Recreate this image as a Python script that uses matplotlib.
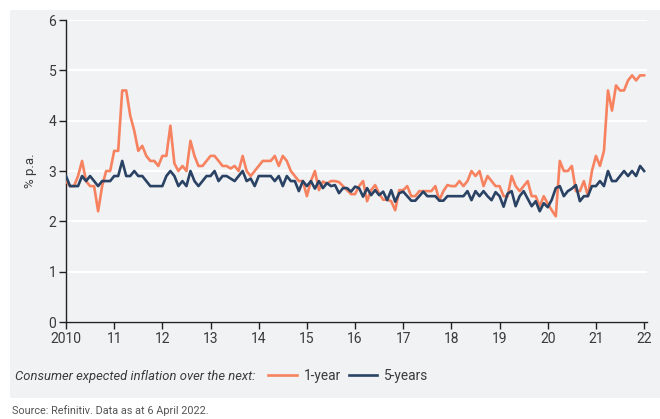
import numpy as np
import pandas as pd
import matplotlib
matplotlib.use('Agg')
import matplotlib.pyplot as plt
from matplotlib.patches import Rectangle

plt.rcParams['font.family'] = ['Roboto', 'DejaVu Sans']

# monthly readings, Jan 2010 .. Jan 2022
one_year = [
    2.8, 2.7, 2.7, 2.9, 3.2, 2.8, 2.7, 2.7, 2.2, 2.7, 3.0, 3.0,      # 2010
    3.4, 3.4, 4.6, 4.6, 4.1, 3.8, 3.4, 3.5, 3.3, 3.2, 3.2, 3.1,      # 2011
    3.3, 3.3, 3.9, 3.15, 3.0, 3.1, 3.0, 3.6, 3.3, 3.1, 3.1, 3.2,     # 2012
    3.3, 3.3, 3.2, 3.1, 3.1, 3.05, 3.1, 3.0, 3.3, 3.0, 2.9, 3.0,     # 2013
    3.1, 3.2, 3.2, 3.2, 3.3, 3.1, 3.3, 3.2, 3.0, 2.9, 2.8, 2.8,      # 2014
    2.5, 2.8, 3.0, 2.62, 2.79, 2.75, 2.8, 2.8, 2.78, 2.7, 2.62, 2.54,  # 2015
    2.54, 2.7, 2.8, 2.4, 2.62, 2.72, 2.55, 2.43, 2.43, 2.4, 2.22, 2.62,  # 2016
    2.62, 2.7, 2.5, 2.5, 2.6, 2.6, 2.6, 2.6, 2.7, 2.42, 2.6, 2.72,   # 2017
    2.7, 2.7, 2.8, 2.7, 2.8, 3.0, 2.9, 3.0, 2.7, 2.9, 2.8, 2.7,      # 2018
    2.7, 2.5, 2.5, 2.9, 2.7, 2.6, 2.7, 2.8, 2.5, 2.5, 2.3, 2.5,      # 2019
    2.35, 2.22, 2.1, 3.2, 3.0, 3.0, 3.1, 2.6, 2.6, 2.8, 2.5, 3.0,    # 2020
    3.3, 3.1, 3.4, 4.6, 4.2, 4.7, 4.6, 4.6, 4.8, 4.9, 4.8, 4.9,      # 2021
    4.9,                                                            # 2022
]
five_years = [
    2.9, 2.7, 2.7, 2.7, 2.9, 2.8, 2.9, 2.8, 2.7, 2.8, 2.8, 2.8,
    2.9, 2.9, 3.2, 2.9, 2.9, 3.0, 2.9, 2.9, 2.8, 2.7, 2.7, 2.7,
    2.7, 2.9, 3.0, 2.9, 2.7, 2.8, 2.7, 3.0, 2.8, 2.7, 2.8, 2.9,
    2.9, 3.0, 2.8, 2.9, 2.9, 2.85, 2.8, 2.9, 3.0, 2.8, 2.85, 2.7,
    2.9, 2.9, 2.9, 2.9, 2.8, 2.9, 2.7, 2.9, 2.8, 2.8, 2.6, 2.8,
    2.7, 2.8, 2.65, 2.8, 2.66, 2.76, 2.7, 2.72, 2.56, 2.66, 2.66, 2.59,
    2.69, 2.66, 2.49, 2.66, 2.52, 2.62, 2.52, 2.59, 2.42, 2.62, 2.39, 2.56,
    2.59, 2.5, 2.41, 2.41, 2.5, 2.59, 2.5, 2.5, 2.5, 2.41, 2.41, 2.5,
    2.5, 2.5, 2.5, 2.5, 2.6, 2.42, 2.6, 2.5, 2.6, 2.5, 2.42, 2.58,
    2.5, 2.29, 2.55, 2.6, 2.3, 2.5, 2.6, 2.45, 2.3, 2.4, 2.2, 2.36,
    2.28, 2.43, 2.66, 2.7, 2.5, 2.6, 2.65, 2.72, 2.4, 2.5, 2.5, 2.7,
    2.7, 2.8, 2.7, 3.0, 2.8, 2.8, 2.9, 3.0, 2.9, 3.0, 2.9, 3.1,
    3.0,
]
year_ticks = list(range(2010, 2023))
year_labels = ['2010'] + [str(y)[2:] for y in year_ticks[1:]]

dates = pd.date_range('2010-01-01', periods=len(one_year), freq='MS')
x = dates.year + (dates.month - 1) / 12

bg = '#f1f2f4'
orange = '#f7825f'
navy = '#2a4263'
txt = '#3a3a3a'

fig = plt.figure(figsize=(6.6, 4.19), dpi=100)
fig.patch.set_facecolor('white')
fig.patches.append(Rectangle((10 / 660, 1 - 398 / 419), 650 / 660, 388 / 419,
                             transform=fig.transFigure, facecolor=bg, edgecolor='none', zorder=-10))

ax = fig.add_axes([66 / 660, 1 - 322 / 419, (647 - 66) / 660, 302 / 419])
ax.set_facecolor(bg)
ax.set_zorder(1)

ax.plot(x, one_year, color=orange, lw=1.9, label='1-year', zorder=3)
ax.plot(x, five_years, color=navy, lw=1.9, label='5-years', zorder=3)

ax.set_ylim(0, 6)
ax.set_xlim(2010, 2022.06)
ax.set_yticks(range(0, 7))
ax.set_xticks(year_ticks)
ax.set_xticklabels(year_labels)
ax.grid(axis='y', color='white', lw=1.6, zorder=1)
ax.set_axisbelow(True)

for s in ['top', 'right']:
    ax.spines[s].set_visible(False)
for s in ['left', 'bottom']:
    ax.spines[s].set_color('#222222')
    ax.spines[s].set_linewidth(1.0)
ax.tick_params(axis='both', direction='out', length=5, width=1, color='#222222',
               labelsize=10, labelcolor=txt, pad=2)

ax.set_ylabel('% p.a.', fontsize=9.5, color=txt, labelpad=8)

fig.text(15 / 660, 1 - 376 / 419, 'Consumer expected inflation over the next:',
         style='italic', fontsize=9.4, color=txt, va='center')
fig.legend(handles=ax.get_lines(), loc='center left',
           bbox_to_anchor=(268 / 660, 1 - 376 / 419), ncol=2, frameon=False,
           fontsize=9.8, handlelength=2.1, handletextpad=0.5, columnspacing=0.6,
           borderpad=0, borderaxespad=0, labelcolor=txt)

fig.text(12 / 660, 1 - 411 / 419, 'Source: Refinitiv. Data as at 6 April 2022.',
         fontsize=7.8, color='#555555', va='center')

fig.savefig('out.png', dpi=100, facecolor=fig.get_facecolor())
